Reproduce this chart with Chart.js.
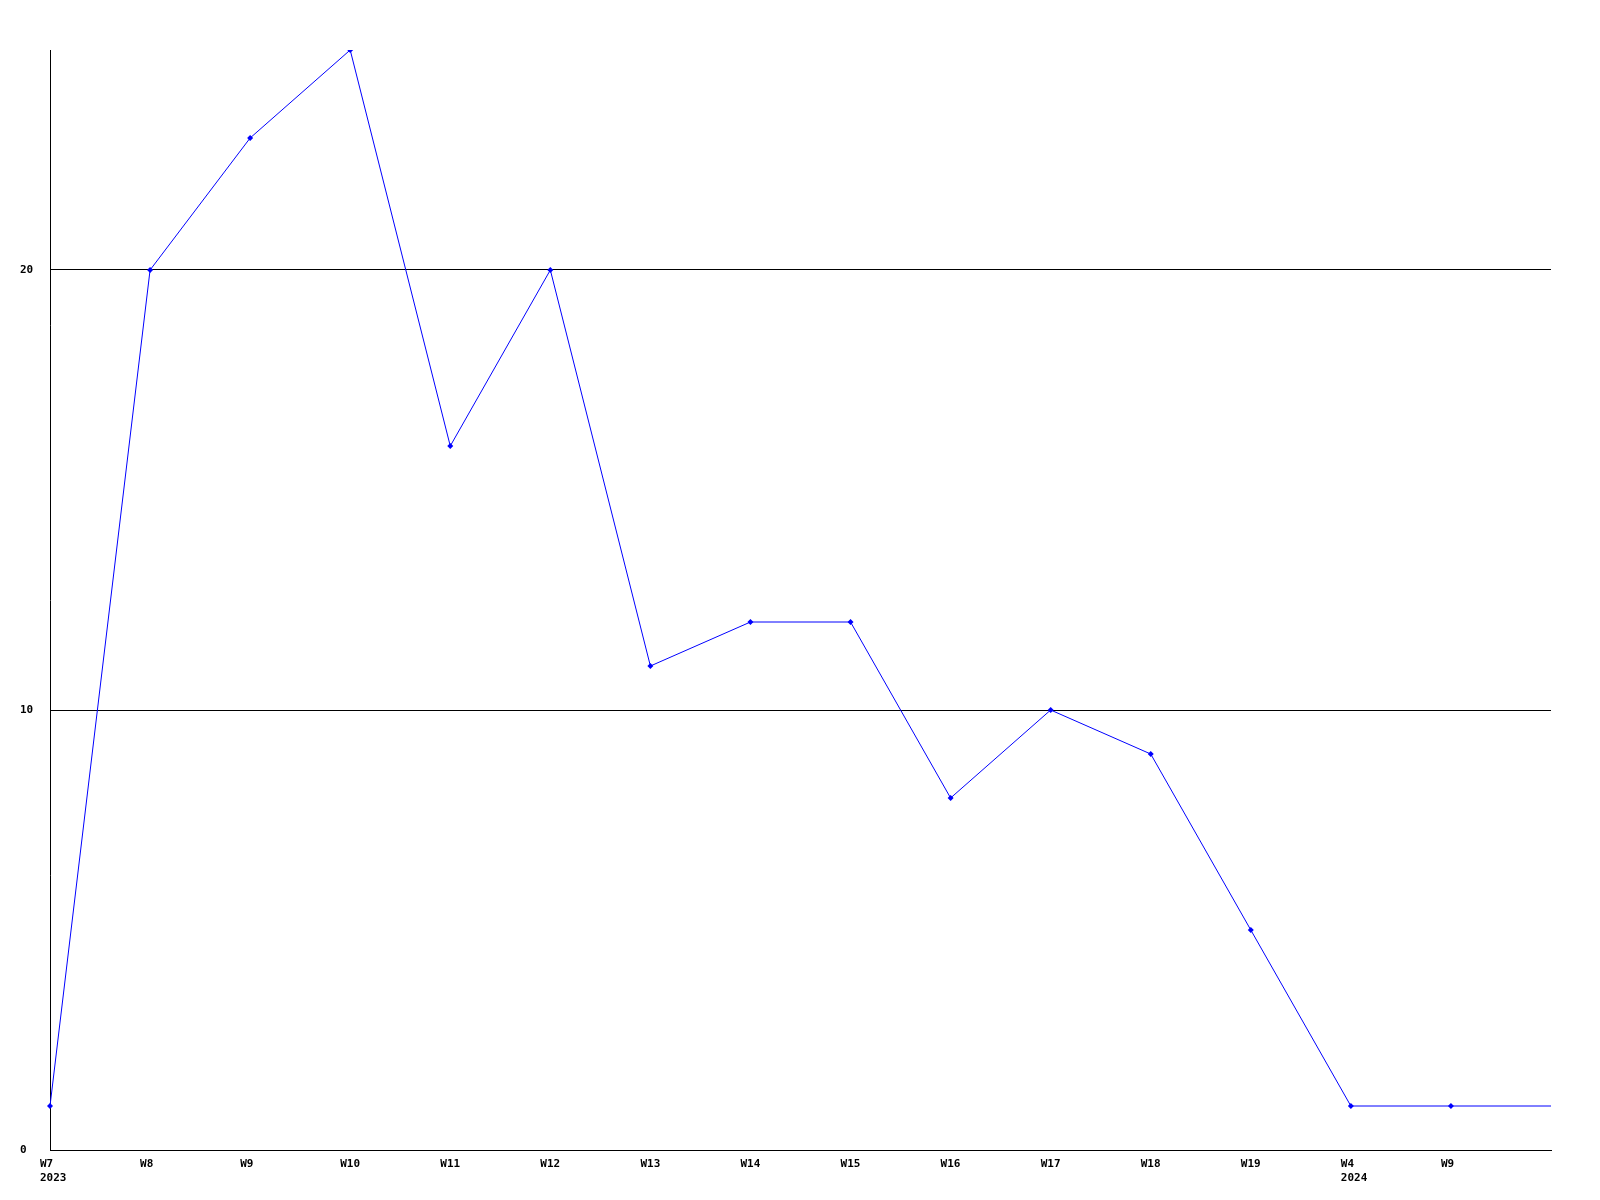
<!DOCTYPE html>
<html>
<head>
<meta charset="utf-8">
<script src="https://cdn.jsdelivr.net/npm/chart.js@4/dist/chart.umd.min.js"></script>
<style>
html,body{margin:0;padding:0;background:#fff;}
#wrap{width:1600px;height:1200px;}
</style>
</head>
<body>
<div id="wrap"><canvas id="c" width="1600" height="1200"></canvas></div>
<script>
const weekLabels = ['W7','W8','W9','W10','W11','W12','W13','W14','W15','W16','W17','W18','W19','W4','W9',''];
const yearLabels = {0:'2023', 13:'2024'};
const values = [1,20,23,25,16,20,11,12,12,8,10,9,5,1,1,1];
const yTicks = [0,10,20];
const yMax = 25;

const labels = weekLabels.map((w,i)=> yearLabels[i] ? [w, yearLabels[i]] : w);
const font = {family:'"DejaVu Sans Mono", "Liberation Mono", monospace', size:11, weight:'bold', lineHeight:1.3};

new Chart(document.getElementById('c'), {
  type:'line',
  data:{
    labels: labels,
    datasets:[{
      data: values,
      borderColor:'#0000ff',
      backgroundColor:'#0000ff',
      borderWidth:1,
      pointStyle:'rectRot',
      pointRadius: values.map((v,i)=> i===values.length-1 ? 0 : 3),
      pointBorderWidth:0,
      tension:0,
      fill:false
    }]
  },
  options:{
    responsive:false,
    animation:false,
    devicePixelRatio:1,
    layout:{padding:{left:20,top:50,right:49,bottom:0}},
    plugins:{legend:{display:false},tooltip:{enabled:false}},
    scales:{
      x:{
        type:'category',
        offset:false,
        grid:{display:false,drawTicks:false},
        border:{display:true,color:'#000',width:1},
        ticks:{
          color:'#000',font:font,align:'start',labelOffset:-10,
          maxRotation:0,minRotation:0,autoSkip:false,padding:7
        },
        afterFit:(s)=>{s.height=50;}
      },
      y:{
        min:0,max:yMax,
        grid:{color:'#000',lineWidth:1,drawTicks:false},
        border:{display:true,color:'#000',width:1},
        afterBuildTicks:(s)=>{s.ticks = yTicks.map(v=>({value:v}));},
        ticks:{color:'#000',font:font,crossAlign:'far',padding:0},
        afterFit:(s)=>{s.width=30;}
      }
    }
  }
});
</script>
</body>
</html>
